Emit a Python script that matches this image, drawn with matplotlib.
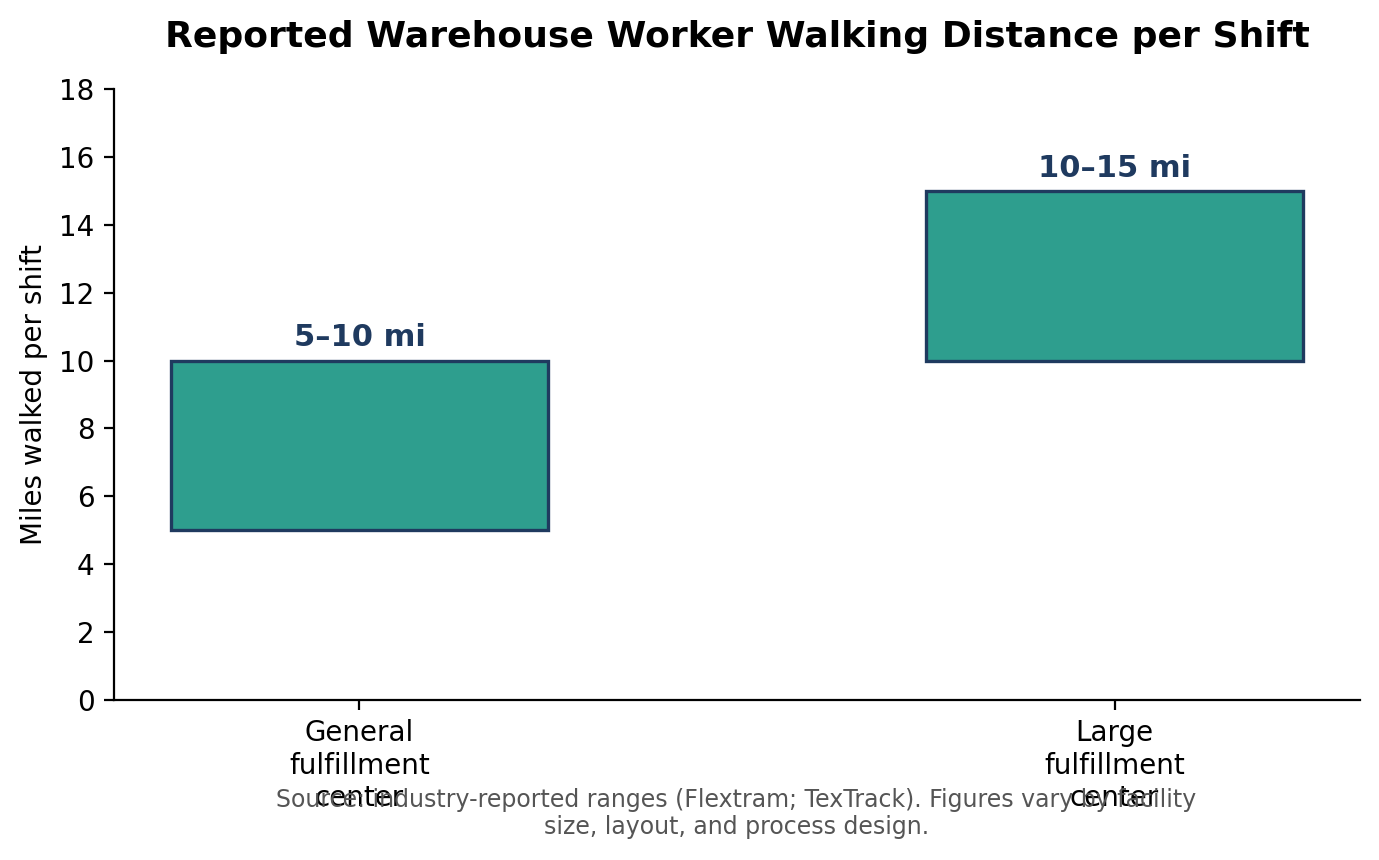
import matplotlib
matplotlib.use('Agg')
import matplotlib.pyplot as plt

# data
categories = ['General\nfulfillment\ncenter', 'Large\nfulfillment\ncenter']
low_miles = [5, 10]
high_miles = [10, 15]
range_labels = ['5–10 mi', '10–15 mi']

BAR_COLOR = '#2E9E8E'
EDGE_COLOR = '#1F3A5F'

fig = plt.figure(figsize=(6.895, 4.3), dpi=200)
ax = fig.add_axes([0.0827, 0.186, 0.9035, 0.7105])

x = list(range(len(categories)))
heights = [h - l for l, h in zip(low_miles, high_miles)]
bars = ax.bar(x, heights, bottom=low_miles, width=0.5, color=BAR_COLOR,
              edgecolor=EDGE_COLOR, linewidth=1.2)

for xi, top, lab in zip(x, high_miles, range_labels):
    ax.annotate(lab, xy=(xi, top), xytext=(0, 3), textcoords='offset points',
                ha='center', va='bottom', fontsize=11, fontweight='bold',
                color=EDGE_COLOR)

ax.set_xticks(x)
ax.set_xticklabels(categories, fontsize=10)
ax.tick_params(axis='y', labelsize=10)
ax.set_ylim(0, 18)
ax.set_yticks(range(0, 19, 2))
ax.set_ylabel('Miles walked per shift', fontsize=10)
ax.set_title('Reported Warehouse Worker Walking Distance per Shift',
             fontsize=13, fontweight='bold', pad=15)
ax.spines['top'].set_visible(False)
ax.spines['right'].set_visible(False)

fig.text(0.534, 0.024,
         'Source: industry-reported ranges (Flextram; TexTrack). Figures vary by facility\n'
         'size, layout, and process design.',
         ha='center', va='bottom', fontsize=8.5, color='#555555')

fig.savefig('out.png', dpi=200)
